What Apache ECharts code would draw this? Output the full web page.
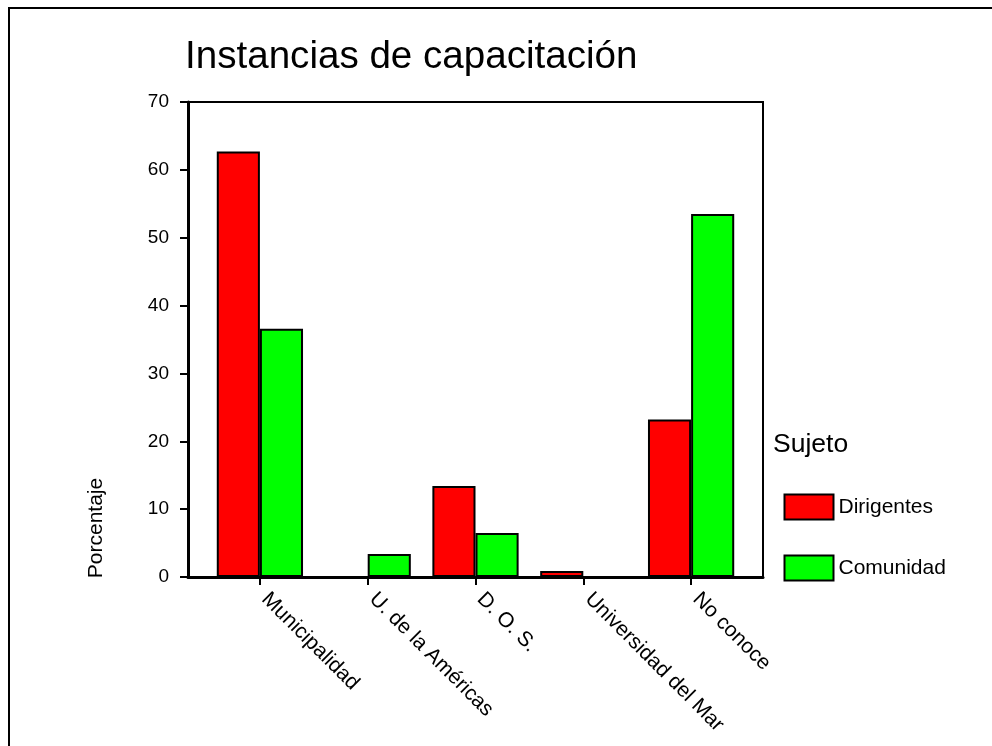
<!DOCTYPE html>
<html>
<head>
<meta charset="utf-8">
<script src="https://cdn.jsdelivr.net/npm/echarts@6/dist/echarts.min.js"></script>
<style>
  html, body { margin: 0; padding: 0; background: #fff; }
  #chart { width: 992px; height: 746px; }
</style>
</head>
<body>
<div id="chart"></div>
<script>
// Categories and percentages per group
const categories = ['Municipalidad', 'U. de la Américas', 'D. O. S.', 'Universidad del Mar', 'No conoce'];
const dirigentes = [62.7, 0, 13.4, 0.9, 23.2];
const comunidad = [36.6, 3.4, 6.5, 0, 53.5];
const yTicks = { min: 0, max: 70, interval: 10 };

const FONT = '"Liberation Sans", Arial, sans-serif';
const chart = echarts.init(document.getElementById('chart'), null, { renderer: 'canvas' });

const barStyle = (color) => ({ color: color, borderColor: '#000', borderWidth: 2 });

chart.setOption({
  animation: false,
  backgroundColor: '#fff',
  grid: [
    // frame with the value axis
    { left: 188, right: 229, top: 102, bottom: 169, show: true, borderColor: '#000', borderWidth: 2, backgroundColor: 'transparent' },
    // band where the bars sit
    { left: 206, right: 247, top: 102, bottom: 169 }
  ],
  xAxis: [
    { gridIndex: 0, type: 'value', min: 0, max: 1,
      axisLine: { show: true, lineStyle: { color: '#000', width: 3 } },
      axisTick: { show: false }, axisLabel: { show: false }, splitLine: { show: false } },
    { gridIndex: 1, type: 'category', data: categories,
      axisLine: { show: false },
      axisTick: { show: true, alignWithLabel: true, length: 8, lineStyle: { color: '#000', width: 2 } },
      axisLabel: { rotate: -45, margin: 14, padding: [0, 0, 0, 7], color: '#000', fontSize: 21, fontFamily: FONT, interval: 0 } }
  ],
  yAxis: [
    { gridIndex: 0, type: 'value', min: yTicks.min, max: yTicks.max, interval: yTicks.interval,
      axisLine: { show: true, lineStyle: { color: '#000', width: 3 } },
      axisTick: { show: true, length: 8, lineStyle: { color: '#000', width: 2 } },
      axisLabel: { color: '#000', fontSize: 19, fontFamily: FONT, margin: 19 },
      splitLine: { show: false } },
    { gridIndex: 1, type: 'value', min: yTicks.min, max: yTicks.max, interval: yTicks.interval, show: false }
  ],
  legend: {
    orient: 'vertical', left: 783.5, top: 493.5, padding: 0,
    itemWidth: 49, itemHeight: 25, itemGap: 34,
    icon: 'rect',
    itemStyle: { borderColor: '#000', borderWidth: 2 },
    textStyle: { color: '#000', fontSize: 21, fontFamily: FONT },
    data: ['Dirigentes', 'Comunidad']
  },
  series: [
    { name: 'Dirigentes', type: 'bar', xAxisIndex: 1, yAxisIndex: 1, data: dirigentes,
      barGap: '0%', barCategoryGap: '20%', itemStyle: barStyle('#FF0000') },
    { name: 'Comunidad', type: 'bar', xAxisIndex: 1, yAxisIndex: 1, data: comunidad,
      barGap: '0%', barCategoryGap: '20%', itemStyle: barStyle('#00FF00') }
  ],
  graphic: [
    { type: 'rect', shape: { x: 9, y: 8, width: 1200, height: 1200 },
      style: { fill: 'none', stroke: '#000', lineWidth: 2 }, silent: true },
    { type: 'text', x: 185, y: 57.5,
      style: { text: 'Instancias de capacitación', font: '38.6px ' + FONT, fill: '#000', align: 'left', verticalAlign: 'middle' } },
    { type: 'text', x: 773, y: 445,
      style: { text: 'Sujeto', font: '26.5px ' + FONT, fill: '#000', align: 'left', verticalAlign: 'middle' } },
    { type: 'text', x: 96, y: 528, rotation: Math.PI / 2,
      style: { text: 'Porcentaje', font: '21px ' + FONT, fill: '#000', align: 'center', verticalAlign: 'middle' } }
  ]
});
</script>
</body>
</html>
